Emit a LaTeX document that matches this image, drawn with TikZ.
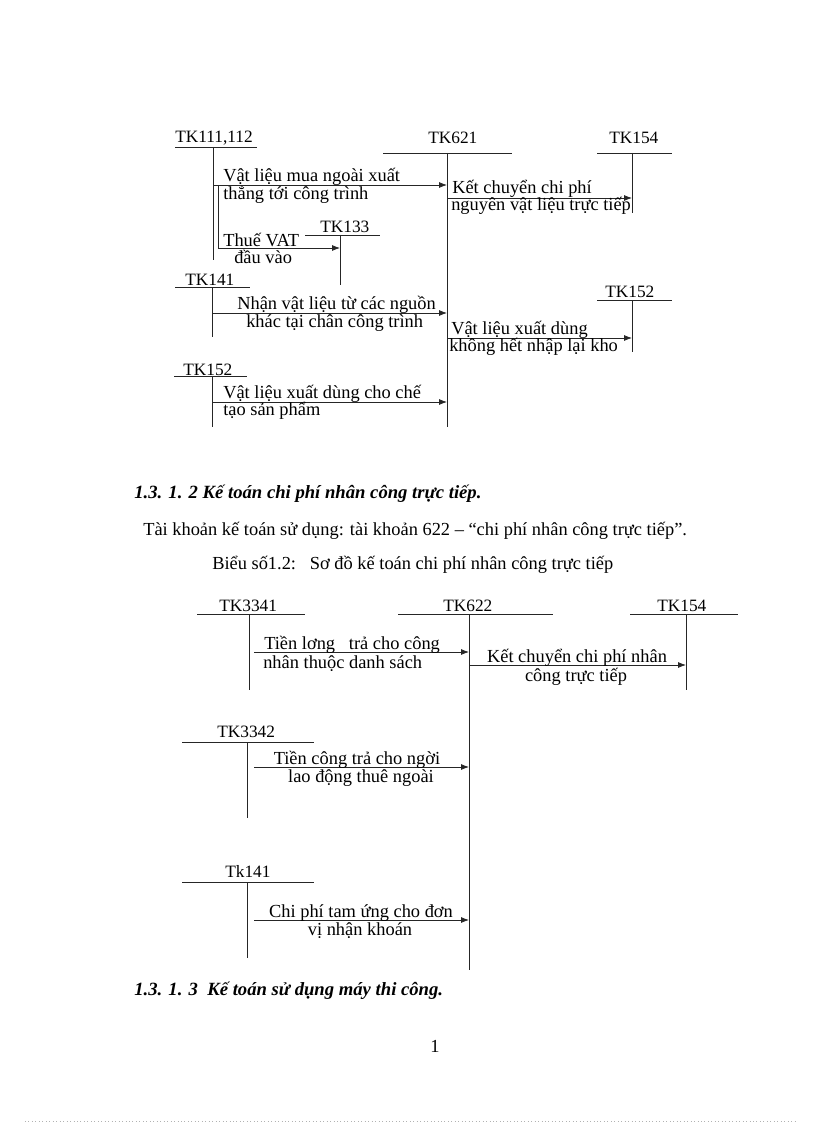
\documentclass[tikz,border=0pt]{standalone}
\usepackage{fontspec}
\setmainfont{Liberation Serif}
\usetikzlibrary{arrows.meta}
\begin{document}
\begin{tikzpicture}[x=0.75pt,y=-0.75pt,
  font=\fontsize{13.8}{16}\selectfont,
  ln/.style={line width=0.6pt,draw=black!85},
  arr/.style={line width=0.6pt,draw=black!85,-{Latex[length=6pt,width=4.5pt]}},
  tw/.style={inner sep=0pt,anchor=base west},
  tc/.style={inner sep=0pt,anchor=base},
  acc/.style={inner sep=0pt,anchor=base west,font=\fontsize{13}{15}\selectfont},
  head/.style={inner sep=0pt,anchor=base west,font=\fontsize{14}{16}\selectfont\bfseries\itshape}]
\useasboundingbox (0,0) rectangle (816,1123);

% ===== Top diagram =====
\node[acc] (k111) at (175,143) {TK111,112};
\draw[ln] (175,147) -- (257,147);
\coordinate (v111t) at (213,147); \coordinate (v111b) at (213,260);
\draw[ln] (v111t) -- (v111b);

\node[acc] (k621) at (428,144) {TK621};
\draw[ln] (383,153) -- (512,153);
\coordinate (v621t) at (447,153); \coordinate (v621b) at (447,427);
\draw[ln] (v621t) -- (v621b);

\node[acc] (k154a) at (609,144) {TK154};
\draw[ln] (597,153) -- (672,153);
\coordinate (v154t) at (632,153); \coordinate (v154b) at (632,213);
\draw[ln] (v154t) -- (v154b);

\node[acc] (k133) at (320,233) {TK133};
\draw[ln] (305,235) -- (380,235);
\coordinate (v133t) at (340,235); \coordinate (v133b) at (340,285);
\draw[ln] (v133t) -- (v133b);

\node[acc] (k141a) at (185,285) {TK141};
\draw[ln] (175,287) -- (250,287);
\coordinate (v141t) at (212,287); \coordinate (v141b) at (212,337);
\draw[ln] (v141t) -- (v141b);

\node[acc] (k152r) at (605,297) {TK152};
\draw[ln] (597,300) -- (672,300);
\coordinate (v152rt) at (632,300); \coordinate (v152rb) at (632,352);
\draw[ln] (v152rt) -- (v152rb);

\node[acc] (k152l) at (183,375) {TK152};
\draw[ln] (174,376) -- (247,376);
\coordinate (v152lt) at (212,376); \coordinate (v152lb) at (212,427);
\draw[ln] (v152lt) -- (v152lb);

% arrows
\coordinate (a1s) at (213,185); \coordinate (a1e) at (447,185);
\draw[arr] (a1s) -- (a1e);
\node[tw] (t1a) at (223,182) {Vật liệu mua ngoài xuất};
\node[tw] (t1b) at (223,200) {thẳng tới công trình};

\coordinate (a2t) at (218,185); \coordinate (a2c) at (218,248); \coordinate (a2e) at (340,248);
\draw[arr] (a2t) -- (a2c) -- (a2e);
\node[tw] (t2a) at (223,246) {Thuế VAT};
\node[tw] (t2b) at (234,263) {đầu vào};

\coordinate (a3s) at (447,198); \coordinate (a3e) at (632,198);
\draw[arr] (a3s) -- (a3e);
\node[tw] (t3a) at (452,194) {Kết chuyển chi phí};
\node[tw] (t3b) at (451,211) {nguyên vật liệu trực tiếp};

\coordinate (a4s) at (212,313); \coordinate (a4e) at (447,313);
\draw[arr] (a4s) -- (a4e);
\node[tw] (t4a) at (237,309) {Nhận vật liệu từ các nguồn};
\node[tw] (t4b) at (246,327) {khác tại chân công trình};

\coordinate (a5s) at (447,338); \coordinate (a5e) at (632,338);
\draw[arr] (a5s) -- (a5e);
\node[tw] (t5a) at (451,334) {Vật liệu xuất dùng};
\node[tw] (t5b) at (449,351) {không hết nhập lại kho};

\coordinate (a6s) at (212,402); \coordinate (a6e) at (447,402);
\draw[arr] (a6s) -- (a6e);
\node[tw] (t6a) at (223,398) {Vật liệu xuất dùng cho chế};
\node[tw] (t6b) at (223,415) {tạo sản phẩm};

% ===== Headings =====
\node[head] (h1) at (134,498) {1.3. 1. 2 Kế toán chi phí nhân công trực tiếp.};
\node[tw] (p1) at (143,535) {Tài khoản kế toán sử dụng: tài khoản 622 – “chi phí nhân công trực tiếp”.};
\node[tw] (p2) at (212,569) {Biểu số1.2:\ \ \ Sơ đồ kế toán chi phí nhân công trực tiếp};

% ===== Second diagram =====
\node[acc] (k3341) at (219,611) {TK3341};
\draw[ln] (197,614) -- (305,614);
\coordinate (v3341t) at (249,614); \coordinate (v3341b) at (249,690);
\draw[ln] (v3341t) -- (v3341b);

\node[acc] (k622) at (443,611) {TK622};
\draw[ln] (398,614) -- (553,614);
\coordinate (v622t) at (469,614); \coordinate (v622b) at (469,970);
\draw[ln] (v622t) -- (v622b);

\node[acc] (k154b) at (657,611) {TK154};
\draw[ln] (630,614) -- (738,614);
\coordinate (v154bt) at (686,614); \coordinate (v154bb) at (686,690);
\draw[ln] (v154bt) -- (v154bb);

\node[acc] (k3342) at (217,737) {TK3342};
\draw[ln] (182,742) -- (314,742);
\coordinate (v3342t) at (247,742); \coordinate (v3342b) at (247,818);
\draw[ln] (v3342t) -- (v3342b);

\node[acc] (k141b) at (225,877) {Tk141};
\draw[ln] (182,882) -- (314,882);
\coordinate (v141bt) at (247,882); \coordinate (v141bb) at (247,958);
\draw[ln] (v141bt) -- (v141bb);

\coordinate (b1s) at (254,652); \coordinate (b1e) at (469,652);
\draw[arr] (b1s) -- (b1e);
\node[tw] (u1a) at (264,649) {Tiền lơng\ \ \ trả cho công};
\node[tw] (u1b) at (263,668) {nhân thuộc danh sách};

\coordinate (b2s) at (469,665); \coordinate (b2e) at (686,665);
\draw[arr] (b2s) -- (b2e);
\node[tc] (u2a) at (577,662) {Kết chuyển chi phí nhân};
\node[tc] (u2b) at (576,681) {công trực tiếp};

\coordinate (b3s) at (254,767); \coordinate (b3e) at (469,767);
\draw[arr] (b3s) -- (b3e);
\node[tc] (u3a) at (357,764) {Tiền công trả cho ngời};
\node[tc] (u3b) at (361,782) {lao động thuê ngoài};

\coordinate (b4s) at (254,920); \coordinate (b4e) at (469,920);
\draw[arr] (b4s) -- (b4e);
\node[tc] (u4a) at (361,917) {Chi phí tam ứng cho đơn};
\node[tc] (u4b) at (360,935) {vị nhận khoán};

\node[head] (h2) at (134,995) {1.3. 1. 3\ \ Kế toán sử dụng máy thi công.};
\node[tc] (pg) at (435,1052) {1};

\draw[black!30,line width=0.6pt,dash pattern=on 0.6pt off 2pt] (25,1121) -- (795,1121);
\end{tikzpicture}
\end{document}
